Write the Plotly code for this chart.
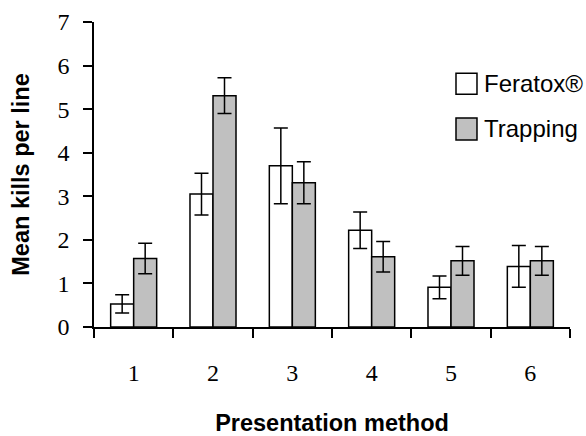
import plotly.graph_objects as go

categories = ["1", "2", "3", "4", "5", "6"]
feratox_mean = [0.53, 3.05, 3.70, 2.22, 0.91, 1.39]
feratox_err = [0.21, 0.48, 0.87, 0.42, 0.26, 0.48]
trapping_mean = [1.57, 5.31, 3.31, 1.61, 1.52, 1.52]
trapping_err = [0.35, 0.41, 0.48, 0.35, 0.33, 0.33]
series_names = ["Feratox®", "Trapping"]
y_ticks = [0, 1, 2, 3, 4, 5, 6, 7]

SANS = "Liberation Sans, Arial, sans-serif"
SERIF = "Liberation Serif, Times New Roman, serif"
fill_colors = ["#ffffff", "#c0c0c0"]

fig = go.Figure()
for name, vals, errs, col in zip(series_names, [feratox_mean, trapping_mean],
                                  [feratox_err, trapping_err], fill_colors):
    fig.add_trace(go.Bar(
        x=categories, y=vals, name=name,
        marker=dict(color=col, line=dict(color="black", width=1.5)),
        error_y=dict(type="data", array=errs, visible=True,
                     color="black", thickness=1.5, width=7),
        showlegend=False,
    ))

# legend drawn as boxes + labels (paper coordinates)
legend_items = [(0.832, 0.763, 0.797), (0.6856, 0.6135, 0.650)]
for (y1, y0, yc), name, col in zip(legend_items, series_names, fill_colors):
    fig.add_shape(type="rect", xref="paper", yref="paper",
                  x0=0.7605, x1=0.8046, y0=y0, y1=y1,
                  fillcolor=col, line=dict(color="black", width=1.5))
    fig.add_annotation(xref="paper", yref="paper", x=0.815, y=yc,
                       text=name, showarrow=False, xanchor="left",
                       yanchor="middle",
                       font=dict(family=SANS, size=24, color="black"))

fig.update_layout(
    width=586, height=436,
    margin=dict(l=94, r=16, t=22, b=109),
    paper_bgcolor="white", plot_bgcolor="white",
    barmode="group", bargap=0.42, bargroupgap=0,
)
fig.update_xaxes(
    type="category", showline=True, linecolor="black", linewidth=1.5,
    ticks="outside", tickson="boundaries", ticklen=9, tickwidth=1.5,
    tickcolor="black", showgrid=False, zeroline=False, automargin=False,
    tickfont=dict(family=SERIF, size=24, color="black"),
    ticklabelstandoff=23,
    title=dict(text="<b>Presentation method</b>", standoff=38,
               font=dict(family=SANS, size=23.5, color="black")),
)
fig.update_yaxes(
    range=[0, 7], tickvals=y_ticks, showline=True, linecolor="black",
    linewidth=1.5, ticks="outside", ticklen=9, tickwidth=1.5,
    tickcolor="black", showgrid=False, zeroline=False, automargin=False,
    tickfont=dict(family=SERIF, size=24, color="black"),
    ticklabelstandoff=9,
    title=dict(text="<b>Mean kills per line</b>", standoff=21,
               font=dict(family=SANS, size=23.5, color="black")),
)

fig.write_html("out.html", config={"displayModeBar": False},
               post_script="document.body.style.margin='0px';document.body.style.overflow='hidden';")
